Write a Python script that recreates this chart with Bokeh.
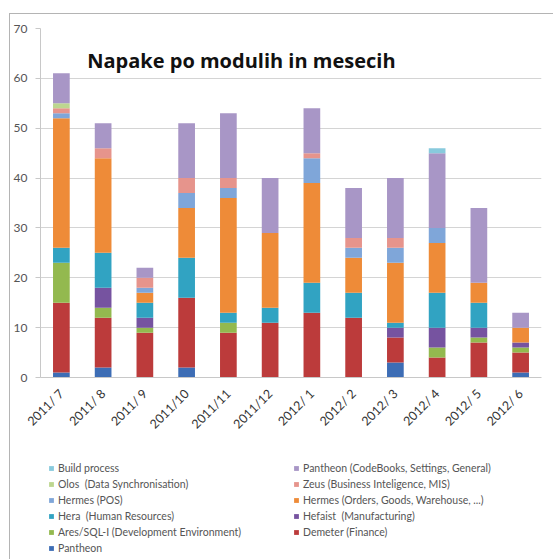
import math
from bokeh.plotting import figure
from bokeh.layouts import column
from bokeh.models import (Legend, LegendItem, Label, FactorRange,
                          Range1d, ColumnDataSource, SingleIntervalTicker)
from bokeh.embed import file_html
from bokeh.resources import INLINE

months = ["2011/ 7", "2011/ 8", "2011/ 9", "2011/10", "2011/11", "2011/12",
          "2012/ 1", "2012/ 2", "2012/ 3", "2012/ 4", "2012/ 5", "2012/ 6"]

pantheon      = [1, 2, 0, 2, 0, 0, 0, 0, 3, 0, 0, 1]
demeter       = [14, 10, 9, 14, 9, 11, 13, 12, 5, 4, 7, 4]
ares          = [8, 2, 1, 0, 2, 0, 0, 0, 0, 2, 1, 1]
hefaist       = [0, 4, 2, 0, 0, 0, 0, 0, 2, 4, 2, 1]
hera          = [3, 7, 3, 8, 2, 3, 6, 5, 1, 7, 5, 0]
hermes_orders = [26, 19, 2, 10, 23, 15, 20, 7, 12, 10, 4, 3]
hermes_pos    = [1, 0, 1, 3, 2, 0, 5, 2, 3, 3, 0, 0]
zeus          = [1, 2, 2, 3, 2, 0, 1, 2, 2, 0, 0, 0]
olos          = [1, 0, 0, 0, 0, 0, 0, 0, 0, 0, 0, 0]
pantheon_cb   = [6, 5, 2, 11, 13, 11, 9, 10, 12, 15, 15, 3]
build_process = [0, 0, 0, 0, 0, 0, 0, 0, 0, 1, 0, 0]

series_keys = ["pantheon", "demeter", "ares", "hefaist", "hera", "hermes_orders",
               "hermes_pos", "zeus", "olos", "pantheon_cb", "build_process"]
series_labels = {
    "pantheon": "Pantheon",
    "demeter": "Demeter (Finance)",
    "ares": "Ares/SQL-I (Development Environment)",
    "hefaist": "Hefaist  (Manufacturing)",
    "hera": "Hera  (Human Resources)",
    "hermes_orders": "Hermes (Orders, Goods, Warehouse, ...)",
    "hermes_pos": "Hermes (POS)",
    "zeus": "Zeus (Business Inteligence, MIS)",
    "olos": "Olos  (Data Synchronisation)",
    "pantheon_cb": "Pantheon (CodeBooks, Settings, General)",
    "build_process": "Build process",
}
colors = ["#3D6DB5", "#BC3B3B", "#93B94F", "#7653A0", "#31A3C2", "#EE8B38",
          "#7FA6D9", "#E6948C", "#BDD68F", "#A896C6", "#88CADD"]

src = ColumnDataSource(dict(
    month=months, pantheon=pantheon, demeter=demeter, ares=ares, hefaist=hefaist,
    hera=hera, hermes_orders=hermes_orders, hermes_pos=hermes_pos, zeus=zeus,
    olos=olos, pantheon_cb=pantheon_cb, build_process=build_process))

# ---- main chart ----
p = figure(x_range=FactorRange(*months, range_padding=0), y_range=Range1d(0, 70),
           frame_width=501, frame_height=349,
           min_border_left=40, min_border_right=12, min_border_top=28, min_border_bottom=70,
           output_backend="svg", toolbar_location=None)

p.vbar_stack(series_keys, x="month", width=0.4, color=colors, source=src, line_color=None)

p.border_fill_alpha = 0
p.background_fill_color = "white"
p.outline_line_color = None
p.xgrid.grid_line_color = None
p.ygrid.grid_line_color = "#D4D4D4"
p.ygrid.grid_line_width = 1.2

p.yaxis.ticker = SingleIntervalTicker(interval=10)
p.yaxis.axis_line_color = "#C8C8C8"
p.yaxis.major_tick_line_color = "#C8C8C8"
p.yaxis.major_tick_out = 5
p.yaxis.major_tick_in = 0
p.yaxis.minor_tick_line_color = None
p.yaxis.major_label_standoff = 8
p.yaxis.major_label_text_font = "Lato"
p.yaxis.major_label_text_font_size = "12px"
p.yaxis.major_label_text_color = "#555555"

p.xaxis.axis_line_color = "#C8C8C8"
p.xaxis.major_tick_line_color = None
p.xaxis.minor_tick_line_color = None
p.xaxis.major_label_orientation = math.pi / 4
p.xaxis.major_label_standoff = 8
p.xaxis.major_label_text_font = "Lato"
p.xaxis.major_label_text_font_size = "12.5px"
p.xaxis.major_label_text_color = "#333333"

p.add_layout(Label(x=1.12, y=63.6, text="Napake po modulih in mesecih",
                   text_font="Open Sans", text_font_style="bold",
                   text_font_size="20px", text_color="#111111",
                   text_baseline="middle"))

# ---- legend strip: same series drawn on a shared x range, scrolled out of view,
#      so the legend keys carry the series colours ----
main_h = 28 + 349 + 70
leg = figure(width=553, height=559 - main_h, x_range=p.x_range,
             y_range=Range1d(1000, 1001),
             min_border=0, output_backend="svg", toolbar_location=None)
leg.axis.visible = False
leg.grid.visible = False
leg.outline_line_color = None
leg.border_fill_alpha = 0
leg.background_fill_alpha = 0

key_renderers = dict(zip(series_keys,
                         leg.vbar_stack(series_keys, x="month", width=0.4, color=colors,
                                        source=src, line_color=None)))

legend_order = ["build_process", "olos", "hermes_pos", "hera", "ares", "pantheon",
                "pantheon_cb", "zeus", "hermes_orders", "hefaist", "demeter"]
items = [LegendItem(label=series_labels[k], renderers=[key_renderers[k]])
         for k in legend_order]
legend = Legend(items=items, ncols=2, location=(8, 5),
                orientation="vertical",
                padding=0, margin=0, spacing=4,
                glyph_width=6, glyph_height=6, label_standoff=4,
                label_width=231, label_height=12,
                label_text_font="Lato", label_text_font_size="10.5px",
                label_text_color="#555555",
                border_line_color=None, background_fill_alpha=0)
leg.add_layout(legend, "center")

layout = column(p, leg, spacing=0)
# chart-area border (left and top edges)
layout.styles = {"box-shadow": "inset 9px 13px 0 0 #ffffff, inset 10px 14px 0 0 #b4b4b4",
                 "background-color": "#ffffff"}

open("out.html", "w").write(file_html(layout, INLINE))
